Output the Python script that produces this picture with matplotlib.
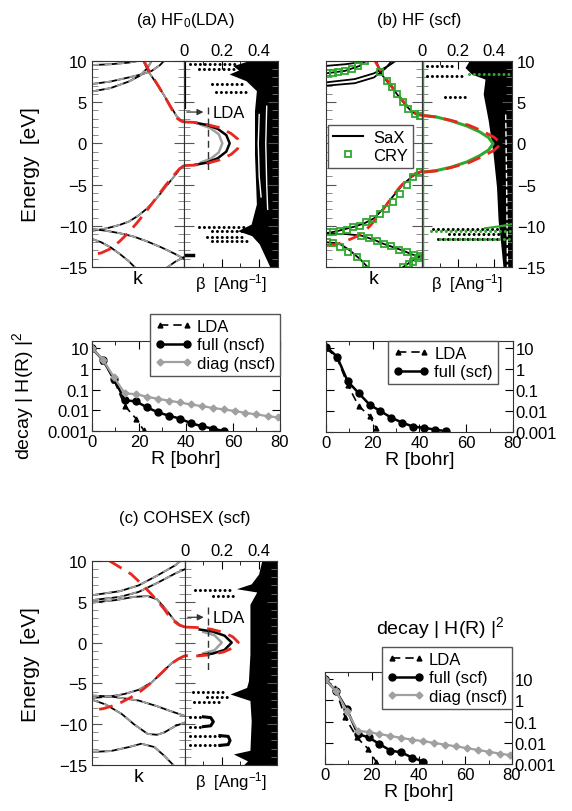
import matplotlib
matplotlib.use("Agg")
import matplotlib.pyplot as plt
from matplotlib.ticker import MultipleLocator, NullFormatter
from matplotlib.lines import Line2D

plt.rcParams['font.family'] = ['Liberation Sans', 'DejaVu Sans']
plt.rcParams['mathtext.fontset'] = 'custom'
plt.rcParams['mathtext.rm'] = 'Liberation Sans'
plt.rcParams['mathtext.it'] = 'Liberation Sans:italic'

GREY = '#a0a0a0'
RED = '#e8281e'
GREEN = '#2ea82e'

# ---------------- panel (a) HF0(LDA): real bands (k, E) ----------------
a_top1_k = [0, 0.2, 0.4, 0.5, 0.56]
a_top1_E = [9.5, 9.6, 9.8, 10.0, 10.2]
a_top2_k = [0, 0.2, 0.4, 0.55, 0.65, 0.74, 0.8]
a_top2_E = [7.2, 7.5, 8.0, 8.4, 8.8, 9.5, 10.2]
a_top3_k = [0, 0.2, 0.4, 0.52, 0.6, 0.66]
a_top3_E = [6.3, 6.7, 7.5, 8.2, 9.1, 10.2]
a_cb_k = [0.55, 0.62, 0.7, 0.78, 0.85, 0.92, 0.97, 1.0]
a_cb_E = [10.2, 8.6, 7.3, 5.9, 4.6, 3.3, 2.75, 2.6]
a_vb_k = [1.0, 0.95, 0.88, 0.8, 0.7, 0.6, 0.5, 0.4, 0.3, 0.2, 0.1, 0.0]
a_vb_E = [-2.7, -3.2, -4.2, -5.3, -6.7, -7.9, -8.8, -9.5, -9.9, -10.2, -10.45, -10.6]
a_low1_k = [0, 0.15, 0.3, 0.45, 0.6, 0.75, 0.9, 1.0]
a_low1_E = [-10.4, -10.6, -10.9, -11.3, -11.9, -12.6, -13.4, -14.0]
a_low2_k = [0, 0.1, 0.2, 0.3, 0.4, 0.48]
a_low2_E = [-11.6, -12.0, -12.6, -13.4, -14.3, -15.2]
a_low3_k = [0.8, 0.9, 1.0]
a_low3_E = [-15.2, -14.4, -13.8]
a_red_cb_k = [0.56, 0.64, 0.72, 0.8, 0.87, 0.93, 0.97, 1.0]
a_red_cb_E = [10.1, 8.4, 7.0, 5.5, 4.1, 3.0, 2.7, 2.6]
a_red_vb_k = [1.0, 0.95, 0.88, 0.8, 0.7, 0.6, 0.5, 0.4, 0.3, 0.2, 0.1, 0.0]
a_red_vb_E = [-2.7, -3.1, -4.0, -5.1, -6.6, -8.1, -9.5, -10.8, -11.9, -12.8, -13.3, -13.5]

# complex bands (beta, E)
a_red_arc_b = [0, 0.05, 0.12, 0.19, 0.25, 0.285, 0.295, 0.285, 0.25, 0.19, 0.12, 0.05, 0]
a_red_arc_E = [2.6, 2.55, 2.3, 1.9, 1.2, 0.55, -0.05, -0.65, -1.35, -2.0, -2.45, -2.65, -2.7]
a_blk_arc_b = [0.06, 0.12, 0.18, 0.225, 0.243, 0.225, 0.18, 0.12, 0.06]
a_blk_arc_E = [2.5, 2.25, 1.75, 1.0, 0.0, -1.0, -1.8, -2.35, -2.6]
a_gry_arc_b = [0.09, 0.14, 0.185, 0.204, 0.185, 0.14, 0.09]
a_gry_arc_E = [2.25, 1.85, 1.1, 0.0, -1.1, -1.9, -2.3]
a_dense_E = [10, 9.43, 8.9, 8.42, 7.6, 6.4, 3.97, -1.29, -7.36, -9.8, -10.6, -11.2, -12.2, -15]
a_dense_b = [0.34, 0.26, 0.29, 0.24, 0.33, 0.385, 0.375, 0.375, 0.385, 0.357, 0.285, 0.36, 0.40, 0.457]
a_white1_b = [0.40, 0.395, 0.40, 0.41]
a_white1_E = [3.5, 0.0, -4.0, -6.5]
a_white2_b = [0.44, 0.435, 0.44, 0.445]
a_white2_E = [4.5, 0.0, -5.0, -8.0]
a_rows = [(9.64, 0.03, 0.27), (9.03, 0.08, 0.27), (7.2, 0.15, 0.32), (6.2, 0.17, 0.35),
          (-10.2, 0.08, 0.33), (-10.6, 0.15, 0.35), (-11.4, 0.12, 0.33), (-11.8, 0.15, 0.35)]
a_lda_b, a_lda_E, a_lda_top, a_lda_bot = 0.128, 3.8, 4.4, -3.5

# ---------------- panel (b) HF (scf) ----------------
b_top1_k = [0, 0.2, 0.4, 0.55]
b_top1_E = [9.4, 9.6, 9.9, 10.2]
b_top2_k = [0, 0.3, 0.5, 0.65, 0.75]
b_top2_E = [7.4, 7.8, 8.5, 9.4, 10.2]
b_top3_k = [0, 0.3, 0.5, 0.62, 0.7]
b_top3_E = [7.0, 7.3, 8.0, 9.1, 10.2]
b_top4_k = [0, 0.2, 0.35, 0.42]
b_top4_E = [8.5, 8.8, 9.4, 10.2]
b_cb_k = [0.52, 0.56, 0.63, 0.7, 0.77, 0.84, 0.9, 0.95, 1.0]
b_cb_E = [10.2, 8.7, 7.6, 6.6, 5.5, 4.5, 3.8, 3.45, 3.4]
b_vb_k = [1.0, 0.9, 0.8, 0.7, 0.6, 0.5, 0.4, 0.3, 0.2, 0.1, 0.0]
b_vb_E = [-3.4, -4.0, -5.0, -6.4, -7.9, -9.1, -9.7, -10.1, -10.4, -10.7, -10.9]
b_low1_k = [0, 0.2, 0.37, 0.5, 0.6, 0.7, 0.8, 0.9, 1.0]
b_low1_E = [-11.0, -11.0, -11.2, -11.7, -12.2, -12.6, -13.0, -13.5, -13.7]
b_low2_k = [0, 0.1, 0.16, 0.25, 0.35, 0.45]
b_low2_E = [-12.0, -12.1, -12.3, -13.0, -14.0, -15.2]
b_low3_k = [0.78, 0.88, 0.95, 1.0]
b_low3_E = [-15.2, -14.4, -13.9, -13.6]
b_red_cb_k = [0.5, 0.56, 0.63, 0.7, 0.77, 0.84, 0.9, 0.95, 1.0]
b_red_cb_E = [10.2, 9.0, 7.8, 6.7, 5.6, 4.6, 3.9, 3.5, 3.4]
b_red_vb_k = [1.0, 0.94, 0.85, 0.77, 0.67, 0.56, 0.46, 0.39, 0.3, 0.2, 0.1, 0.0]
b_red_vb_E = [-3.4, -3.6, -4.3, -5.3, -6.8, -8.6, -10.0, -10.8, -11.4, -11.9, -12.3, -12.4]
# CRY points
b_cry1_k = [0.014, 0.069, 0.128, 0.198, 0.267, 0.337, 0.406]
b_cry1_E = [8.54, 8.54, 8.62, 8.83, 9.03, 9.43, 9.96]
b_cry2_k = [0.5625, 0.632, 0.684, 0.736, 0.806, 0.858, 0.927, 0.979]
b_cry2_E = [8.62, 7.61, 6.8, 6.0, 4.98, 4.17, 3.57, 3.37]
b_cry3_k = [0.979, 0.91, 0.84, 0.77, 0.70, 0.63, 0.5625, 0.49, 0.42, 0.354, 0.285, 0.215, 0.146, 0.076, 0.014]
b_cry3_E = [-3.5, -4.1, -5.1, -6.1, -7.15, -7.96, -8.57, -9.2, -9.6, -10.0, -10.2, -10.5, -10.6, -10.8, -10.8]
b_cry4_k = [0.37, 0.45, 0.53, 0.6, 0.68, 0.76, 0.84, 0.92, 0.98]
b_cry4_E = [-11.2, -11.5, -11.9, -12.2, -12.5, -12.9, -13.2, -13.5, -13.7]
b_cry5_k = [0.014, 0.076, 0.146, 0.23, 0.32, 0.42]
b_cry5_E = [-12.0, -12.1, -12.6, -13.2, -13.8, -14.6]
b_cry6_k = [0.8, 0.86, 0.91, 0.96]
b_cry6_E = [-15.0, -14.7, -14.4, -13.9]

b_red_arc_b = [0, 0.08, 0.16, 0.26, 0.33, 0.40, 0.441, 0.40, 0.33, 0.26, 0.16, 0.08, 0]
b_red_arc_E = [3.4, 3.2, 2.8, 2.2, 1.55, 0.75, -0.05, -0.85, -1.65, -2.35, -2.95, -3.35, -3.5]
b_grn_arc_b = [0, 0.08, 0.16, 0.25, 0.32, 0.37, 0.395, 0.37, 0.32, 0.25, 0.16, 0.08, 0]
b_grn_arc_E = [3.4, 3.2, 2.75, 2.1, 1.4, 0.7, -0.05, -0.8, -1.5, -2.25, -2.9, -3.3, -3.5]
b_dense_E = [10, 9.84, 9.2, 8.4, 7.8, 6.0, 2.76, -1.29, -5.3, -9.4, -11.0, -15]
b_dense_b = [0.26, 0.257, 0.239, 0.276, 0.35, 0.34, 0.368, 0.395, 0.414, 0.423, 0.432, 0.45]
b_white_b = [0.465, 0.47, 0.475]
b_white_E = [3.5, -5.0, -15.0]
b_rows = [(9.43, 0.03, 0.17), (8.2, 0.03, 0.22), (5.6, 0.13, 0.24),
          (-10.4, 0.06, 0.46), (-11.0, 0.15, 0.44), (-11.6, 0.09, 0.44)]
b_green_rows = [(8.4, 0.26, 0.5), (-10.6, 0.05, 0.5), (-11.6, 0.1, 0.5)]
b_grn_tail_b = [0.35, 0.42, 0.5]
b_grn_tail_E = [-10.3, -10.1, -9.8]

# ---------------- panel (c) COHSEX (scf) ----------------
c_top1_k = [0, 0.3, 0.5, 0.7, 0.9, 0.97]
c_top1_E = [5.8, 6.3, 7.0, 8.2, 9.5, 10.2]
c_top2_k = [0, 0.3, 0.5, 0.7, 0.9, 1.0]
c_top2_E = [5.2, 5.6, 6.2, 7.3, 8.5, 9.0]
c_cb_k = [0, 0.25, 0.45, 0.6, 0.7, 0.8, 0.88, 0.95, 1.0]
c_cb_E = [4.9, 5.2, 5.6, 5.7, 5.3, 4.0, 2.8, 2.1, 1.9]
c_vb_k = [1.0, 0.93, 0.85, 0.75, 0.64, 0.5, 0.35, 0.2, 0.1, 0.0]
c_vb_E = [-1.6, -2.0, -2.6, -3.7, -4.9, -5.8, -6.3, -6.6, -6.7, -6.8]
c_low1_k = [0, 0.2, 0.5, 0.7, 0.82, 1.0]
c_low1_E = [-6.5, -6.6, -7.1, -7.8, -8.3, -9.0]
c_low2_k = [0, 0.15, 0.32, 0.45, 0.6, 0.7, 0.78, 0.9, 1.0]
c_low2_E = [-7.0, -7.6, -8.75, -10.0, -11.2, -11.3, -11.0, -10.2, -9.8]
c_low3_k = [0, 0.2, 0.4, 0.53, 0.67, 0.78, 0.89]
c_low3_E = [-13.4, -13.3, -12.8, -12.4, -12.8, -13.9, -15.2]
c_red_cb_k = [0.19, 0.42, 0.55, 0.67, 0.77, 0.85, 0.93, 1.0]
c_red_cb_E = [10.0, 8.4, 7.0, 5.55, 4.2, 2.9, 2.2, 1.9]
c_red_vb_k = [1.0, 0.93, 0.85, 0.75, 0.64, 0.53, 0.42, 0.32, 0.24, 0.12, 0.0]
c_red_vb_E = [-1.6, -2.0, -2.6, -3.7, -4.9, -5.9, -6.7, -7.3, -7.7, -8.1, -8.3]

c_red_arc_b = [0, 0.06, 0.14, 0.21, 0.26, 0.29, 0.26, 0.21, 0.14, 0.06, 0]
c_red_arc_E = [1.9, 1.85, 1.65, 1.25, 0.7, 0.03, -0.65, -1.15, -1.5, -1.65, -1.6]
c_blk_arc_b = [0.08, 0.15, 0.215, 0.254, 0.215, 0.15, 0.08]
c_blk_arc_E = [1.6, 1.35, 0.85, 0.0, -0.9, -1.35, -1.55]
c_gry_arc_b = [0.1, 0.16, 0.2, 0.16, 0.1]
c_gry_arc_E = [1.3, 0.9, 0.0, -0.95, -1.3]
c_dense_E = [10, 8.4, 7.2, 6.6, 6.2, 4.7, -1.4, -4.7, -5.5, -6.3, -7.1, -9.6, -13.2, -13.65, -14.5, -15]
c_dense_b = [0.417, 0.40, 0.36, 0.28, 0.39, 0.353, 0.353, 0.345, 0.335, 0.245, 0.353, 0.36, 0.353, 0.263, 0.34, 0.317]
c_rows = [(6.4, 0.054, 0.245), (5.75, 0.154, 0.28), (-6.1, 0.045, 0.21), (-6.7, 0.12, 0.25),
          (-7.3, 0.05, 0.2), (-9.1, 0.027, 0.10), (-10.3, 0.027, 0.10), (-11.4, 0.027, 0.19),
          (-12.6, 0.027, 0.19)]
c_u1_b = [0.10, 0.14, 0.154, 0.14, 0.10]
c_u1_E = [-9.1, -9.2, -9.7, -10.2, -10.3]
c_u2_b = [0.19, 0.235, 0.245, 0.235, 0.19]
c_u2_E = [-11.4, -11.5, -12.0, -12.5, -12.6]
c_lda_b, c_lda_E, c_lda_top, c_lda_bot = 0.127, 3.1, 4.3, -3.6

# ---------------- decay |H(R)|^2 ----------------
R_full = [0, 4.7, 9.3, 14, 18.7, 23.3, 28, 32.7, 37.3, 42, 46.7, 51.3, 56,
          60.7, 65.3, 70, 74.7, 79.3]
da_lda_R = [0, 4.7, 9.3, 14, 18.7, 22]
da_lda_V = [10, 2.5, 0.3, 0.016, 0.004, 0.0011]
da_full_V = [10, 2.6, 0.33, 0.03, 0.027, 0.014, 0.008, 0.0055, 0.004, 0.0024, 0.0017, 0.0013, 0.001]
da_diag_V = [10, 2.7, 0.4, 0.065, 0.06, 0.045, 0.036, 0.029, 0.024, 0.019, 0.016, 0.013,
             0.011, 0.0092, 0.0075, 0.0063, 0.0052, 0.0045]
db_lda_R = [0, 4.7, 9.3, 14, 18.7, 21.5]
db_lda_V = [10, 3.5, 0.18, 0.017, 0.006, 0.0015]
db_full_V = [12, 4, 0.26, 0.072, 0.02, 0.01, 0.0048, 0.0028, 0.0018, 0.0016, 0.0013, 0.0011]
dc_lda_R = [0, 4.3, 8.6, 13.6, 18.6, 22]
dc_lda_V = [10, 4, 0.16, 0.018, 0.005, 0.0012]
dc_full_V = [10, 2.8, 0.39, 0.026, 0.018, 0.0087, 0.0043, 0.0035, 0.002, 0.0013]
dc_diag_V = [10, 2.8, 0.32, 0.037, 0.032, 0.026, 0.021, 0.017, 0.014, 0.012, 0.0098, 0.0082,
             0.0068, 0.0056, 0.0046, 0.0038, 0.0031, 0.0026]

ylab_ticks = [-15, -10, -5, 0, 5, 10]


def band(ax, k, E, grey=True):
    ax.plot(k, E, color='black', lw=1.3)
    if grey:
        ax.plot(k, E, color=GREY, lw=1.3, dashes=(4, 3))


def red(ax, x, y):
    ax.plot(x, y, color=RED, lw=2.0, dashes=(5, 3))


def dots(ax, rows, color='black'):
    for E, b0, b1 in rows:
        ax.plot([b0, b1], [E, E], color=color, lw=2.2, ls=(0, (0.01, 1.6)),
                dash_capstyle='round')


def style_energy(ax, left_labels=False, right_labels=False):
    ax.set_ylim(-15, 10)
    ax.set_yticks(ylab_ticks)
    ax.yaxis.set_minor_locator(MultipleLocator(1))
    ax.tick_params(axis='y', which='both', direction='in', left=True, right=True,
                   labelleft=left_labels, labelright=right_labels, labelsize=12)
    ax.tick_params(axis='y', which='major', length=7, color='#555555')
    ax.tick_params(axis='y', which='minor', length=4, color='#777777')
    for s in ax.spines.values():
        s.set_color('#333333')


def style_band(ax, left_labels):
    ax.set_xlim(0, 1)
    ax.set_xticks([])
    style_energy(ax, left_labels=left_labels)
    ax.set_xlabel('k', fontsize=14, labelpad=2)


def style_cplx(ax, right_labels=False):
    ax.set_xlim(0, 0.5)
    ax.set_xticks([0, 0.2, 0.4])
    ax.set_xticklabels(['0', '0.2', '0.4'])
    ax.xaxis.set_minor_locator(MultipleLocator(0.1))
    ax.tick_params(axis='x', which='both', direction='in', top=True, bottom=True,
                   labeltop=True, labelbottom=False, labelsize=12, pad=2)
    ax.tick_params(axis='x', which='major', length=6)
    ax.tick_params(axis='x', which='minor', length=3)
    style_energy(ax, right_labels=right_labels)
    ax.set_xlabel('\u03b2  [Ang$^{-1}$]', fontsize=12, labelpad=3)


def style_decay(ax, left_labels):
    ax.set_yscale('log')
    ax.set_xlim(0, 80)
    ax.set_ylim(0.001, 22)
    ax.set_xticks([0, 20, 40, 60, 80])
    ax.xaxis.set_minor_locator(MultipleLocator(10))
    ax.set_yticks([0.001, 0.01, 0.1, 1, 10])
    ax.set_yticklabels(['0.001', '0.01', '0.1', '1', '10'])
    ax.yaxis.set_minor_formatter(NullFormatter())
    ax.tick_params(which='both', direction='in', top=True, right=True, labelsize=12,
                   labelleft=left_labels, labelright=not left_labels, pad=2)
    ax.tick_params(which='major', length=6)
    ax.tick_params(which='minor', length=3)
    ax.set_xlabel('R [bohr]', fontsize=14, labelpad=1)
    for s in ax.spines.values():
        s.set_color('#333333')


def lda_marker(ax, b, E, top, bot):
    ax.plot([b, b], [top, bot], color='#333333', lw=1.0, dashes=(5, 3))
    ax.annotate('', xy=(b - 0.01, E), xytext=(0, E),
                arrowprops=dict(arrowstyle='-|>', color='#333333', lw=0.9,
                                mutation_scale=9))
    ax.text(b + 0.025, E, 'LDA', fontsize=12, va='center', ha='left')


def decay_lines(ax, R_l, V_l, V_f, V_d=None):
    ax.plot(R_l, V_l, color='black', lw=1.2, dashes=(5, 3), marker='^', ms=3.5)
    ax.plot(R_full[:len(V_f)], V_f, color='black', lw=1.8, marker='o', ms=5)
    if V_d is not None:
        ax.plot(R_full[:len(V_d)], V_d, color=GREY, lw=1.6, marker='D', ms=3.5)


def decay_legend(ax, labels, anchor):
    h = [Line2D([], [], color='black', lw=1.2, dashes=(5, 3), marker='^', ms=3.5),
         Line2D([], [], color='black', lw=1.8, marker='o', ms=5),
         Line2D([], [], color=GREY, lw=1.6, marker='D', ms=3.5)]
    leg = ax.legend(h[:len(labels)], labels, loc='upper right', bbox_to_anchor=anchor,
                    fontsize=12, frameon=True, fancybox=False, framealpha=1,
                    edgecolor='#555555', handlelength=2.2, handletextpad=0.3,
                    borderpad=0.3, labelspacing=0.2, borderaxespad=0, numpoints=2)
    leg.get_frame().set_linewidth(1.0)


fig = plt.figure(figsize=(5.72, 8.12), dpi=100)

ax_a_band = fig.add_axes([0.1608, 0.6700, 0.1608, 0.2537])
ax_a_cplx = fig.add_axes([0.3217, 0.6700, 0.1643, 0.2537])
ax_b_band = fig.add_axes([0.5699, 0.6700, 0.1678, 0.2537])
ax_b_cplx = fig.add_axes([0.7378, 0.6700, 0.1573, 0.2537])
ax_a_dec = fig.add_axes([0.1608, 0.4680, 0.3287, 0.1108])
ax_b_dec = fig.add_axes([0.5699, 0.4667, 0.3269, 0.1121])
ax_c_band = fig.add_axes([0.1608, 0.0567, 0.1626, 0.2512])
ax_c_cplx = fig.add_axes([0.3234, 0.0567, 0.1608, 0.2512])
ax_c_dec = fig.add_axes([0.5682, 0.0579, 0.3269, 0.1133])

# ---- (a) bands ----
for k, E in [(a_top1_k, a_top1_E), (a_top2_k, a_top2_E), (a_top3_k, a_top3_E),
             (a_cb_k, a_cb_E), (a_vb_k, a_vb_E), (a_low1_k, a_low1_E),
             (a_low2_k, a_low2_E), (a_low3_k, a_low3_E)]:
    band(ax_a_band, k, E)
red(ax_a_band, a_red_cb_k, a_red_cb_E)
red(ax_a_band, a_red_vb_k, a_red_vb_E)
style_band(ax_a_band, True)

ax = ax_a_cplx
ax.fill_betweenx(a_dense_E, a_dense_b, 0.5, color='black', lw=0)
ax.plot(a_white1_b, a_white1_E, color='white', lw=1.0)
ax.plot(a_white2_b, a_white2_E, color='white', lw=1.0)
dots(ax, a_rows)
ax.plot([0, 0], [a_lda_top, 10], color='black', lw=3)
ax.plot([0.005, 0.05], [-13.6, -13.6], color='black', lw=2.5)
ax.plot(a_gry_arc_b, a_gry_arc_E, color=GREY, lw=1.8)
ax.plot(a_blk_arc_b, a_blk_arc_E, color='black', lw=1.8)
red(ax, a_red_arc_b, a_red_arc_E)
lda_marker(ax, a_lda_b, a_lda_E, a_lda_top, a_lda_bot)
style_cplx(ax)

# ---- (b) bands ----
for k, E in [(b_top1_k, b_top1_E), (b_top2_k, b_top2_E), (b_top3_k, b_top3_E),
             (b_top4_k, b_top4_E), (b_cb_k, b_cb_E), (b_vb_k, b_vb_E),
             (b_low1_k, b_low1_E), (b_low2_k, b_low2_E), (b_low3_k, b_low3_E)]:
    band(ax_b_band, k, E, grey=False)
red(ax_b_band, b_red_cb_k, b_red_cb_E)
red(ax_b_band, b_red_vb_k, b_red_vb_E)
for k, E in [(b_cry1_k, b_cry1_E), (b_cry2_k, b_cry2_E), (b_cry3_k, b_cry3_E),
             (b_cry4_k, b_cry4_E), (b_cry5_k, b_cry5_E), (b_cry6_k, b_cry6_E)]:
    ax_b_band.plot(k, E, ls='none', marker='s', ms=4.5, mfc='none', mec=GREEN, mew=1.3)
style_band(ax_b_band, False)
h_sax = Line2D([], [], color='black', lw=1.5)
h_cry = Line2D([], [], ls='none', marker='s', ms=4.5, mfc='none', mec=GREEN, mew=1.3)
leg = ax_b_band.legend([h_sax, h_cry], ['SaX', 'CRY'], loc='upper left',
                       bbox_to_anchor=(0.02, 0.69), fontsize=12, fancybox=False,
                       framealpha=1, edgecolor='#555555', handlelength=1.8,
                       handletextpad=0.6, borderpad=0.3, labelspacing=0.2,
                       borderaxespad=0)

ax = ax_b_cplx
ax.fill_betweenx(b_dense_E, b_dense_b, 0.5, color='black', lw=0)
ax.plot(b_white_b, b_white_E, color='white', lw=1.0, dashes=(4, 2))
dots(ax, b_rows)
dots(ax, b_green_rows, GREEN)
ax.plot(b_grn_tail_b, b_grn_tail_E, color=GREEN, lw=1.5)
ax.plot([0, 0], [-15, 10], color=GREEN, lw=2.5)
ax.plot(b_grn_arc_b, b_grn_arc_E, color=GREEN, lw=2.2)
red(ax, b_red_arc_b, b_red_arc_E)
style_cplx(ax, right_labels=True)

# ---- (c) bands ----
for k, E in [(c_top1_k, c_top1_E), (c_top2_k, c_top2_E), (c_cb_k, c_cb_E),
             (c_vb_k, c_vb_E), (c_low1_k, c_low1_E), (c_low2_k, c_low2_E),
             (c_low3_k, c_low3_E)]:
    band(ax_c_band, k, E)
red(ax_c_band, c_red_cb_k, c_red_cb_E)
red(ax_c_band, c_red_vb_k, c_red_vb_E)
style_band(ax_c_band, True)

ax = ax_c_cplx
ax.fill_betweenx(c_dense_E, c_dense_b, 0.5, color='black', lw=0)
dots(ax, c_rows)
ax.plot(c_u1_b, c_u1_E, color='black', lw=2.2)
ax.plot(c_u2_b, c_u2_E, color='black', lw=2.2)
ax.plot(c_gry_arc_b, c_gry_arc_E, color=GREY, lw=1.8)
ax.plot(c_blk_arc_b, c_blk_arc_E, color='black', lw=1.8)
red(ax, c_red_arc_b, c_red_arc_E)
lda_marker(ax, c_lda_b, c_lda_E, c_lda_top, c_lda_bot)
style_cplx(ax)

# ---- decays ----
decay_lines(ax_a_dec, da_lda_R, da_lda_V, da_full_V, da_diag_V)
style_decay(ax_a_dec, True)
decay_legend(ax_a_dec, ['LDA', 'full (nscf)', 'diag (nscf)'], (1.0, 1.30))

decay_lines(ax_b_dec, db_lda_R, db_lda_V, db_full_V)
style_decay(ax_b_dec, False)
decay_legend(ax_b_dec, ['LDA', 'full (scf)'], (0.92, 1.0))

decay_lines(ax_c_dec, dc_lda_R, dc_lda_V, dc_full_V, dc_diag_V)
style_decay(ax_c_dec, False)
decay_legend(ax_c_dec, ['LDA', 'full (scf)', 'diag (nscf)'], (1.0, 1.27))

# ---- texts ----
fig.text(0.3235, 0.975, r'(a) HF$_0$(LDA)', ha='center', va='center', fontsize=12)
fig.text(0.733, 0.975, '(b) HF (scf)', ha='center', va='center', fontsize=12)
fig.text(0.3235, 0.362, '(c) COHSEX (scf)', ha='center', va='center', fontsize=12)
fig.text(0.054, 0.797, 'Energy  [eV]', rotation=90, ha='center', va='center', fontsize=15)
fig.text(0.054, 0.182, 'Energy  [eV]', rotation=90, ha='center', va='center', fontsize=15)
fig.text(0.040, 0.513, r'decay | H(R) |$^2$', rotation=90, ha='center', va='center',
         fontsize=14)
fig.text(0.77, 0.226, r'decay | H(R) |$^2$', ha='center', va='center', fontsize=14)

fig.savefig('out.png', dpi=100)
